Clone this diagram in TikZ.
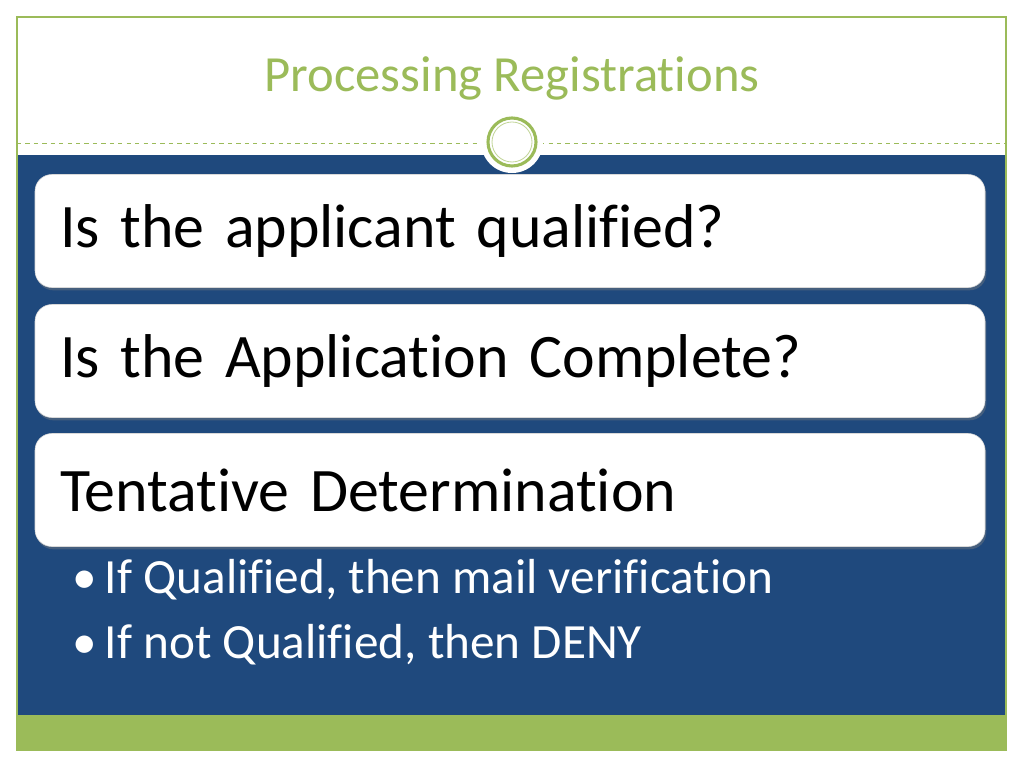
\documentclass[tikz,border=0pt]{standalone}
\usepackage{fontspec}
\setmainfont[RawFeature=-liga]{Carlito}
\usetikzlibrary{positioning}
\usetikzlibrary{shadows}
\definecolor{olive}{RGB}{155,187,89}
\definecolor{slideblue}{RGB}{31,73,125}

\begin{document}
\begin{tikzpicture}[
  x=0.025cm, y=-0.025cm,
  % --- styles ---
  stepbox/.style={draw=black!15, fill=white, rounded corners=12pt,
    minimum width=950*0.025cm, minimum height=113*0.025cm,
    text width=900*0.025cm, align=left, inner sep=0pt,
    font=\fontsize{44}{50}\selectfont,
    drop shadow={shadow xshift=1pt, shadow yshift=-2pt, opacity=0.4}},
  bullet/.style={text=white, anchor=west, inner sep=0pt,
    font=\fontsize{35}{40}\selectfont}
]
\useasboundingbox (0,0) rectangle (1024,768);
\fill[white] (0,0) rectangle (1024,768);

% frame, title band, blue body, green foot
\fill[slideblue] (17,155) rectangle (1006,715);
\fill[olive] (17,715) rectangle (1006,750);
\draw[olive, line width=0.8pt] (17,17) rectangle (1006,750);
\draw[olive, dashed, line width=0.5pt] (17,143) -- (1006,143);
\node[text=olive, font=\fontsize{36}{40}\selectfont] (title) at (512,78) {Processing Registrations};

% ornament circle
\fill[white] (512,142) circle (31);
\draw[olive, line width=2.2pt] (512,142) circle (24);
\draw[olive!60, line width=0.6pt] (512,142) circle (20);

% steps
\node[stepbox] (qualified) at (510,231) {Is the applicant qualified?};
\node[stepbox] (complete)  at (510,361) {Is the Application Complete?};
\node[stepbox] (tentative) at (510,490) {Tentative Determination};

% bullets
\node[bullet] (mail) at (72,580) {\textbullet\,If Qualified, then mail verification};
\node[bullet] (deny) at (72,645) {\textbullet\,If not Qualified, then DENY};
\end{tikzpicture}
\end{document}
